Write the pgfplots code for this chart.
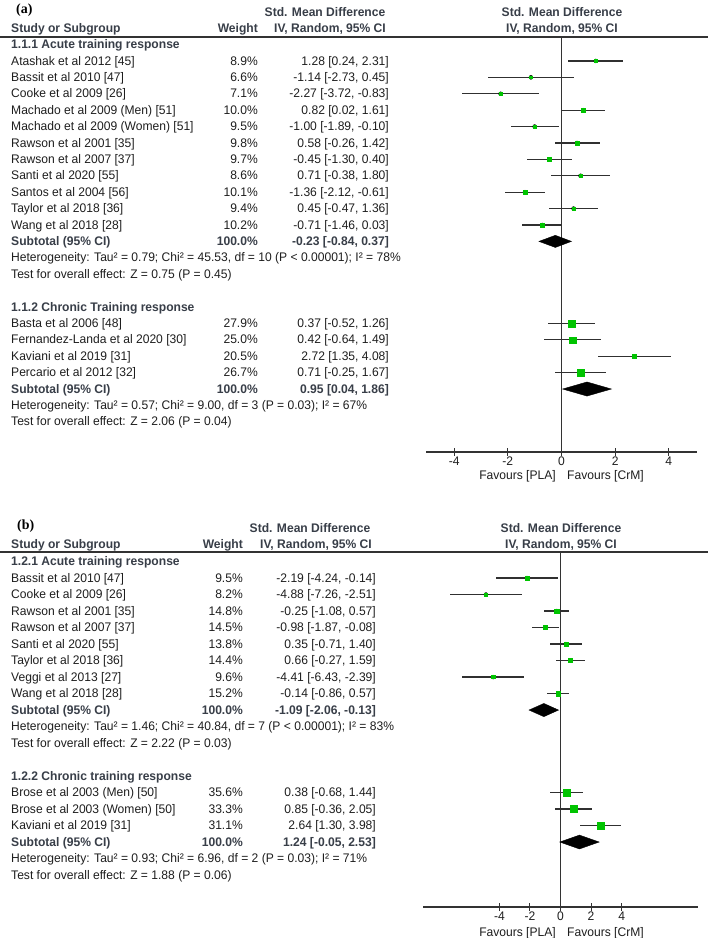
\documentclass[border=0pt]{standalone}
\usepackage{fontspec}
\setmainfont{Liberation Sans}[FakeStretch=0.97]
\newfontfamily\labfont{Liberation Serif}
\usepackage{pgfplots}
\usepackage{pgfplotstable}
\pgfplotsset{compat=1.18}

\definecolor{txt}{HTML}{1E1E1E}
\definecolor{hdr}{HTML}{383E48}
\definecolor{sq}{HTML}{00C400}
\definecolor{cil}{HTML}{303030}
\definecolor{axc}{HTML}{333333}
\newcommand{\fs}{\fontsize{12.5}{14}\selectfont}

% panel (a): rows are negative row numbers, 0 = first study
\pgfplotstableread{
row est lo hi ms
0 1.28 0.24 2.31 1.4
-1 -1.14 -2.73 0.45 1.3
-2 -2.27 -3.72 -0.83 1.7
-3 0.82 0.02 1.61 2.0
-4 -1.00 -1.89 -0.10 1.8
-5 0.58 -0.26 1.42 2.0
-6 -0.45 -1.30 0.40 2.0
-7 0.71 -0.38 1.80 1.5
-8 -1.36 -2.12 -0.61 2.1
-9 0.45 -0.47 1.36 1.8
-10 -0.71 -1.46 0.03 2.1
-16 0.37 -0.52 1.26 3.6
-17 0.42 -0.64 1.49 3.1
-18 2.72 1.35 4.08 2.1
-19 0.71 -0.25 1.67 3.2
}\dataA

% panel (b)
\pgfplotstableread{
row est lo hi ms
0 -2.19 -4.24 -0.14 2.0
-1 -4.88 -7.26 -2.51 1.4
-2 -0.25 -1.08 0.57 2.2
-3 -0.98 -1.87 -0.08 2.0
-4 0.35 -0.71 1.40 2.1
-5 0.66 -0.27 1.59 2.1
-6 -4.41 -6.43 -2.39 1.6
-7 -0.14 -0.86 0.57 2.3
-13 0.38 -0.68 1.44 3.6
-14 0.85 -0.36 2.05 3.4
-15 2.64 1.30 3.98 3.3
}\dataB

\pgfplotsset{forest/.style={
  scale only axis, clip=false, anchor=south west,
  axis x line=bottom, axis y line=none,
  x axis line style={-, line width=1.1bp, draw=axc},
  tick align=center, major tick length=8bp,
  tick style={line width=1bp, draw=axc},
  xtick={-4,-2,0,2,4}, xticklabels={-4,-2,0,2,4},
  xticklabel style={font=\fs, text=txt, inner sep=1pt},
}}
\pgfplotsset{cis/.style={only marks, mark=none,
  error bars/.cd, x dir=both, x explicit, error mark=none,
  error bar style={line width=1.2bp, cil}}}
\pgfplotsset{squares/.style={scatter, only marks, mark=square*,
  scatter/use mapped color={draw=sq, fill=sq},
  visualization depends on={\thisrow{ms} \as \msz},
  scatter/@pre marker code/.append style={/tikz/mark size=\msz}}}

\tikzset{t/.style={font=\fs, text=txt, inner sep=0pt},
         h/.style={font=\fs\bfseries, text=hdr, inner sep=0pt}}

\newcommand{\RA}[4]{%
  \node[t, anchor=base west] at (11,{-(65+16.4*(#1))}) {#2};%
  \node[t, anchor=base east] at (258,{-(65+16.4*(#1))}) {#3};%
  \node[t, anchor=base east] at (389,{-(65+16.4*(#1))}) {#4};}
\newcommand{\LA}[2]{\node[t, anchor=base west] at (11,{-(65+16.4*(#1))}) {#2};}
\newcommand{\RB}[4]{%
  \node[t, anchor=base west] at (11,{-(582+16.5*(#1))}) {#2};%
  \node[t, anchor=base east] at (243,{-(582+16.5*(#1))}) {#3};%
  \node[t, anchor=base east] at (376,{-(582+16.5*(#1))}) {#4};}
\newcommand{\LB}[2]{\node[t, anchor=base west] at (11,{-(582+16.5*(#1))}) {#2};}

\begin{document}
\begin{tikzpicture}[x=1bp, y=1bp]
\useasboundingbox (0,0) rectangle (708,-938);

% ---------------- panel (a) ----------------
\begin{axis}[forest, at={(426bp,-452bp)}, width=271bp, height=415bp,
  xmin=-5.05, xmax=5.05, ymin=-23.84, ymax=1.46]
\addplot[axc, line width=1bp] coordinates {(0,1.46) (0,-23.84)};
\addplot[cis] table[x=est, y=row,
  x error plus expr=\thisrow{hi}-\thisrow{est},
  x error minus expr=\thisrow{est}-\thisrow{lo}] {\dataA};
\addplot[squares] table[x=est, y=row] {\dataA};
\addplot[fill=black, draw=black] coordinates
  {(-0.84,-11) (-0.23,-10.63) (0.37,-11) (-0.23,-11.37)} -- cycle;
\addplot[fill=black, draw=black] coordinates
  {(0.04,-20) (0.95,-19.57) (1.86,-20) (0.95,-20.43)} -- cycle;
\end{axis}

\node[inner sep=0pt, anchor=base west, font=\labfont\bfseries\fontsize{14}{16}\selectfont] at (16,-13) {(a)};
\node[h] at (325,-12) {Std. Mean Difference};
\node[h] at (562,-12) {Std. Mean Difference};
\node[h, anchor=base west] at (11,-32) {Study or Subgroup};
\node[h, anchor=base east] at (258,-32) {Weight};
\node[h, anchor=base] at (330,-32) {IV, Random, 95\% CI};
\node[h, anchor=base] at (562,-32) {IV, Random, 95\% CI};
\draw[axc, line width=1.3bp] (0,-37) -- (708,-37);

\node[h, anchor=base west] at (11,{-(65-16.4)}) {1.1.1 Acute training response};
\RA{0}{Atashak et al 2012 [45]}{8.9\%}{1.28 [0.24, 2.31]}
\RA{1}{Bassit et al 2010 [47]}{6.6\%}{-1.14 [-2.73, 0.45]}
\RA{2}{Cooke et al 2009 [26]}{7.1\%}{-2.27 [-3.72, -0.83]}
\RA{3}{Machado et al 2009 (Men) [51]}{10.0\%}{0.82 [0.02, 1.61]}
\RA{4}{Machado et al 2009 (Women) [51]}{9.5\%}{-1.00 [-1.89, -0.10]}
\RA{5}{Rawson et al 2001 [35]}{9.8\%}{0.58 [-0.26, 1.42]}
\RA{6}{Rawson et al 2007 [37]}{9.7\%}{-0.45 [-1.30, 0.40]}
\RA{7}{Santi et al 2020 [55]}{8.6\%}{0.71 [-0.38, 1.80]}
\RA{8}{Santos et al 2004 [56]}{10.1\%}{-1.36 [-2.12, -0.61]}
\RA{9}{Taylor et al 2018 [36]}{9.4\%}{0.45 [-0.47, 1.36]}
\RA{10}{Wang et al 2018 [28]}{10.2\%}{-0.71 [-1.46, 0.03]}
\RA{11}{\bfseries\color{hdr}Subtotal (95\% CI)}{\bfseries\color{hdr}100.0\%}{\bfseries\color{hdr}-0.23 [-0.84, 0.37]}
\LA{12}{Heterogeneity: Tau² = 0.79; Chi² = 45.53, df = 10 (P < 0.00001); I² = 78\%}
\LA{13}{Test for overall effect: Z = 0.75 (P = 0.45)}
\node[h, anchor=base west] at (11,{-(65+16.4*15)}) {1.1.2 Chronic Training response};
\RA{16}{Basta et al 2006 [48]}{27.9\%}{0.37 [-0.52, 1.26]}
\RA{17}{Fernandez-Landa et al 2020 [30]}{25.0\%}{0.42 [-0.64, 1.49]}
\RA{18}{Kaviani et al 2019 [31]}{20.5\%}{2.72 [1.35, 4.08]}
\RA{19}{Percario et al 2012 [32]}{26.7\%}{0.71 [-0.25, 1.67]}
\RA{20}{\bfseries\color{hdr}Subtotal (95\% CI)}{\bfseries\color{hdr}100.0\%}{\bfseries\color{hdr}0.95 [0.04, 1.86]}
\LA{21}{Heterogeneity: Tau² = 0.57; Chi² = 9.00, df = 3 (P = 0.03); I² = 67\%}
\LA{22}{Test for overall effect: Z = 2.06 (P = 0.04)}
\node[t, anchor=base east] at (556,-479) {Favours [PLA]};
\node[t, anchor=base west] at (567,-479) {Favours [CrM]};

% ---------------- panel (b) ----------------
\begin{axis}[forest, at={(423bp,-907bp)}, width=275bp, height=355bp,
  xmin=-9, xmax=9, ymin=-19.94, ymax=1.58]
\addplot[axc, line width=1bp] coordinates {(0,1.58) (0,-19.94)};
\addplot[cis] table[x=est, y=row,
  x error plus expr=\thisrow{hi}-\thisrow{est},
  x error minus expr=\thisrow{est}-\thisrow{lo}] {\dataB};
\addplot[squares] table[x=est, y=row] {\dataB};
\addplot[fill=black, draw=black] coordinates
  {(-2.06,-8) (-1.09,-7.6) (-0.13,-8) (-1.09,-8.4)} -- cycle;
\addplot[fill=black, draw=black] coordinates
  {(-0.05,-16) (1.24,-15.58) (2.53,-16) (1.24,-16.42)} -- cycle;
\end{axis}

\node[inner sep=0pt, anchor=base west, font=\labfont\bfseries\fontsize{14}{16}\selectfont] at (17,-529) {(b)};
\node[h] at (310,-528) {Std. Mean Difference};
\node[h] at (561,-528) {Std. Mean Difference};
\node[h, anchor=base west] at (11,-548) {Study or Subgroup};
\node[h, anchor=base east] at (243,-548) {Weight};
\node[h, anchor=base] at (316,-548) {IV, Random, 95\% CI};
\node[h, anchor=base] at (561,-548) {IV, Random, 95\% CI};
\draw[axc, line width=1.3bp] (0,-552) -- (708,-552);

\node[h, anchor=base west] at (11,{-(582-16.5)}) {1.2.1 Acute training response};
\RB{0}{Bassit et al 2010 [47]}{9.5\%}{-2.19 [-4.24, -0.14]}
\RB{1}{Cooke et al 2009 [26]}{8.2\%}{-4.88 [-7.26, -2.51]}
\RB{2}{Rawson et al 2001 [35]}{14.8\%}{-0.25 [-1.08, 0.57]}
\RB{3}{Rawson et al 2007 [37]}{14.5\%}{-0.98 [-1.87, -0.08]}
\RB{4}{Santi et al 2020 [55]}{13.8\%}{0.35 [-0.71, 1.40]}
\RB{5}{Taylor et al 2018 [36]}{14.4\%}{0.66 [-0.27, 1.59]}
\RB{6}{Veggi et al 2013 [27]}{9.6\%}{-4.41 [-6.43, -2.39]}
\RB{7}{Wang et al 2018 [28]}{15.2\%}{-0.14 [-0.86, 0.57]}
\RB{8}{\bfseries\color{hdr}Subtotal (95\% CI)}{\bfseries\color{hdr}100.0\%}{\bfseries\color{hdr}-1.09 [-2.06, -0.13]}
\LB{9}{Heterogeneity: Tau² = 1.46; Chi² = 40.84, df = 7 (P < 0.00001); I² = 83\%}
\LB{10}{Test for overall effect: Z = 2.22 (P = 0.03)}
\node[h, anchor=base west] at (11,{-(582+16.5*12)}) {1.2.2 Chronic training response};
\RB{13}{Brose et al 2003 (Men) [50]}{35.6\%}{0.38 [-0.68, 1.44]}
\RB{14}{Brose et al 2003 (Women) [50]}{33.3\%}{0.85 [-0.36, 2.05]}
\RB{15}{Kaviani et al 2019 [31]}{31.1\%}{2.64 [1.30, 3.98]}
\RB{16}{\bfseries\color{hdr}Subtotal (95\% CI)}{\bfseries\color{hdr}100.0\%}{\bfseries\color{hdr}1.24 [-0.05, 2.53]}
\LB{17}{Heterogeneity: Tau² = 0.93; Chi² = 6.96, df = 2 (P = 0.03); I² = 71\%}
\LB{18}{Test for overall effect: Z = 1.88 (P = 0.06)}
\node[t, anchor=base east] at (556,-936) {Favours [PLA]};
\node[t, anchor=base west] at (567,-936) {Favours [CrM]};
\end{tikzpicture}
\end{document}
